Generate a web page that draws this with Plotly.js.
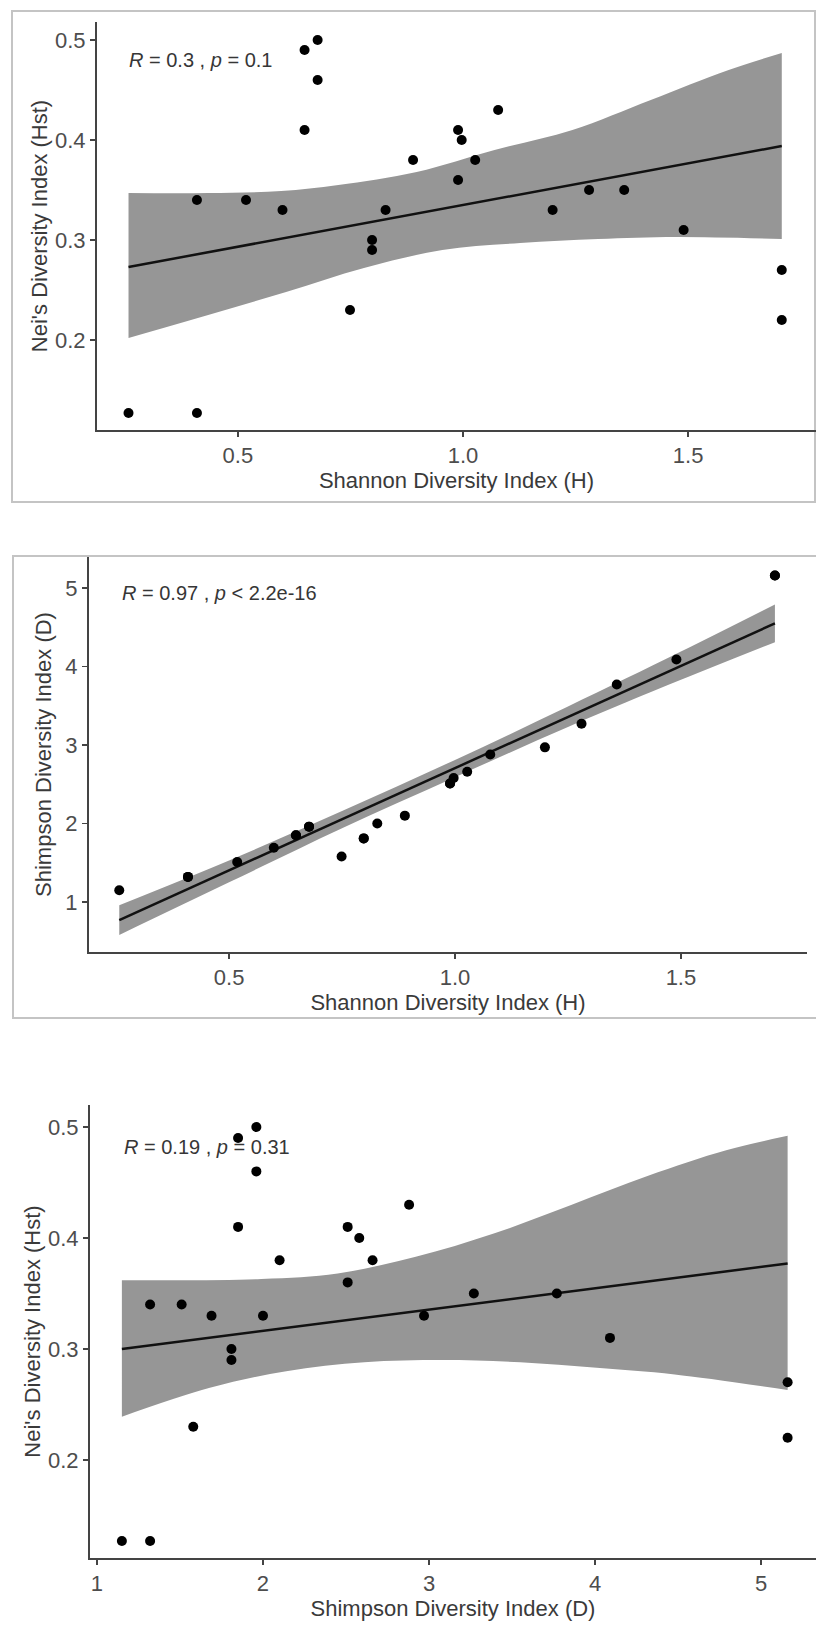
<!DOCTYPE html>
<html>
<head>
<meta charset="utf-8">
<script src="https://cdn.plot.ly/plotly-3.0.1.min.js"></script>
<style>
  html, body { margin: 0; padding: 0; background: #ffffff; }
  #chart { width: 816px; height: 1628px; }
</style>
</head>
<body>
<div id="chart"></div>
<script>
// ---- sample values ----
const shannonH = [0.257, 0.409, 0.409, 0.518, 0.599, 0.648, 0.648, 0.677, 0.677, 0.749, 0.798, 0.798, 0.828,
                  0.889, 0.989, 0.989, 0.997, 1.027, 1.078, 1.199, 1.280, 1.358, 1.490, 1.708, 1.708];
const simpsonD = [1.15, 1.32, 1.32, 1.51, 1.69, 1.85, 1.85, 1.96, 1.96, 1.58, 1.81, 1.81, 2.00,
                  2.10, 2.51, 2.51, 2.58, 2.66, 2.88, 2.97, 3.27, 3.77, 4.09, 5.16, 5.16];
const neiHst   = [0.127, 0.127, 0.34, 0.34, 0.33, 0.49, 0.41, 0.50, 0.46, 0.23, 0.30, 0.29, 0.33,
                  0.38, 0.41, 0.36, 0.40, 0.38, 0.43, 0.33, 0.35, 0.35, 0.31, 0.27, 0.22];

// ---- fitted lines and confidence bands ----
const fit1X = [0.257, 1.708];  const fit1Y = [0.273, 0.394];
const band1X     = [0.257, 0.434, 0.596, 0.723, 0.897, 1.07, 1.243, 1.417, 1.59, 1.708];
const band1Upper = [0.347, 0.347, 0.349, 0.355, 0.368, 0.390, 0.410, 0.440, 0.470, 0.487];
const band1LX    = [0.257, 0.434, 0.607, 0.780, 0.954, 1.127, 1.300, 1.474, 1.708];
const band1Lower = [0.202, 0.225, 0.248, 0.272, 0.290, 0.297, 0.301, 0.303, 0.301];

const fit2X = [0.257, 1.708];  const fit2Y = [0.77, 4.55];
const band2X     = [0.257, 0.5, 0.75, 1.0, 1.25, 1.5, 1.708];
const band2Upper = [0.96, 1.53, 2.16, 2.81, 3.49, 4.19, 4.79];
const band2Lower = [0.58, 1.25, 1.94, 2.59, 3.23, 3.83, 4.31];

const fit3X = [1.15, 5.16];  const fit3Y = [0.300, 0.377];
const band3UX    = [1.15, 1.99, 2.45, 2.92, 3.39, 3.86, 4.32, 4.79, 5.16];
const band3Upper = [0.362, 0.363, 0.368, 0.383, 0.404, 0.430, 0.456, 0.479, 0.492];
const band3LX    = [1.15, 1.68, 2.14, 2.61, 3.08, 3.55, 4.01, 4.48, 5.16];
const band3Lower = [0.239, 0.265, 0.280, 0.288, 0.290, 0.288, 0.283, 0.277, 0.263];

const xTitles = ['Shannon Diversity Index (H)', 'Shannon Diversity Index (H)', 'Shimpson Diversity Index (D)'];
const yTitles = ["Nei's Diversity Index (Hst)", 'Shimpson Diversity Index (D)', "Nei's Diversity Index (Hst)"];
const statLabels = ['<i>R</i> = 0.3 , <i>p</i> = 0.1', '<i>R</i> = 0.97 , <i>p</i> &lt; 2.2e-16', '<i>R</i> = 0.19 , <i>p</i> = 0.31'];

const FONT = 'Liberation Sans, Arial, Helvetica, sans-serif';
const BAND = '#969696';
const W = 816, H = 1628;

function bandTraces(xa, ya, ux, uy, lx, ly) {
  return [
    {x: lx, y: ly, xaxis: xa, yaxis: ya, type: 'scatter', mode: 'lines',
     line: {width: 0, shape: 'spline', color: BAND}, hoverinfo: 'skip', showlegend: false},
    {x: ux, y: uy, xaxis: xa, yaxis: ya, type: 'scatter', mode: 'lines', fill: 'tonexty',
     fillcolor: BAND, line: {width: 0, shape: 'spline', color: BAND}, hoverinfo: 'skip', showlegend: false}
  ];
}
function fitTrace(xa, ya, x, y) {
  return {x: x, y: y, xaxis: xa, yaxis: ya, type: 'scatter', mode: 'lines',
          line: {color: '#111111', width: 2.5}, showlegend: false};
}
function pointTrace(xa, ya, x, y) {
  return {x: x, y: y, xaxis: xa, yaxis: ya, type: 'scatter', mode: 'markers',
          marker: {color: '#000000', size: 10}, showlegend: false};
}

const data = [].concat(
  bandTraces('x', 'y', band1X, band1Upper, band1LX, band1Lower),
  [fitTrace('x', 'y', fit1X, fit1Y), pointTrace('x', 'y', shannonH, neiHst)],
  bandTraces('x2', 'y2', band2X, band2Upper, band2X, band2Lower),
  [fitTrace('x2', 'y2', fit2X, fit2Y), pointTrace('x2', 'y2', shannonH, simpsonD)],
  bandTraces('x3', 'y3', band3UX, band3Upper, band3LX, band3Lower),
  [fitTrace('x3', 'y3', fit3X, fit3Y), pointTrace('x3', 'y3', simpsonD, neiHst)]
);

function px(v) { return v / W; }
function py(v) { return 1 - v / H; }

function xAxis(domL, domR, range, tickvals, ticktext, title, anchor) {
  return {
    domain: [px(domL), px(domR)], range: range, anchor: anchor,
    showline: true, linecolor: '#444444', linewidth: 2, mirror: false,
    ticks: 'outside', ticklen: 5, tickwidth: 1.5, tickcolor: '#444444',
    tickvals: tickvals, ticktext: ticktext,
    tickfont: {family: FONT, size: 22, color: '#4d4d4d'},
    showgrid: false, zeroline: false, fixedrange: true,
    title: {text: title, font: {family: FONT, size: 22, color: '#3a3a3a'}, standoff: 5}
  };
}
function yAxis(domB, domT, range, tickvals, ticktext, title, anchor, standoff) {
  return {
    domain: [py(domB), py(domT)], range: range, anchor: anchor,
    showline: true, linecolor: '#444444', linewidth: 2, mirror: false,
    ticks: 'outside', ticklen: 5, tickwidth: 1.5, tickcolor: '#444444',
    tickvals: tickvals, ticktext: ticktext,
    tickfont: {family: FONT, size: 22, color: '#4d4d4d'},
    showgrid: false, zeroline: false, fixedrange: true,
    title: {text: title, font: {family: FONT, size: 22, color: '#3a3a3a'}, standoff: standoff}
  };
}

const layout = {
  width: W, height: H,
  margin: {l: 0, r: 0, t: 0, b: 0},
  paper_bgcolor: '#ffffff', plot_bgcolor: 'rgba(0,0,0,0)',
  showlegend: false,
  font: {family: FONT},
  xaxis:  xAxis(97, 816, [0.187, 1.784], [0.5, 1.0, 1.5], ['0.5', '1.0', '1.5'], xTitles[0], 'y'),
  yaxis:  yAxis(430, 22, [0.11, 0.518], [0.2, 0.3, 0.4, 0.5], ['0.2', '0.3', '0.4', '0.5'], yTitles[0], 'x', 1),
  xaxis2: xAxis(89, 807, [0.190, 1.779], [0.5, 1.0, 1.5], ['0.5', '1.0', '1.5'], xTitles[1], 'y2'),
  yaxis2: yAxis(952, 557, [0.363, 5.395], [1, 2, 3, 4, 5], ['1', '2', '3', '4', '5'], yTitles[1], 'x2', 8),
  xaxis3: xAxis(90, 816, [0.958, 5.331], [1, 2, 3, 4, 5], ['1', '2', '3', '4', '5'], xTitles[2], 'y3'),
  yaxis3: yAxis(1558, 1105, [0.1117, 0.5198], [0.2, 0.3, 0.4, 0.5], ['0.2', '0.3', '0.4', '0.5'], yTitles[2], 'x3', 1),
  annotations: [
    {text: statLabels[0], xref: 'paper', yref: 'paper', x: px(127), y: py(60), xanchor: 'left', yanchor: 'middle',
     showarrow: false, font: {family: FONT, size: 20, color: '#363636'}},
    {text: statLabels[1], xref: 'paper', yref: 'paper', x: px(120), y: py(593), xanchor: 'left', yanchor: 'middle',
     showarrow: false, font: {family: FONT, size: 20, color: '#363636'}},
    {text: statLabels[2], xref: 'paper', yref: 'paper', x: px(122), y: py(1147), xanchor: 'left', yanchor: 'middle',
     showarrow: false, font: {family: FONT, size: 20, color: '#363636'}}
  ],
  shapes: [
    {type: 'rect', xref: 'paper', yref: 'paper', x0: px(12), x1: px(815), y0: py(502), y1: py(11),
     line: {color: '#c4c4c4', width: 2}, fillcolor: 'rgba(0,0,0,0)', layer: 'below'},
    {type: 'path', xref: 'paper', yref: 'paper',
     path: 'M ' + px(830) + ',' + py(556) + ' L ' + px(13) + ',' + py(556) +
           ' L ' + px(13) + ',' + py(1018) + ' L ' + px(830) + ',' + py(1018),
     line: {color: '#c4c4c4', width: 2}, layer: 'below'}
  ]
};

Plotly.newPlot('chart', data, layout, {staticPlot: true, displayModeBar: false});
</script>
</body>
</html>
